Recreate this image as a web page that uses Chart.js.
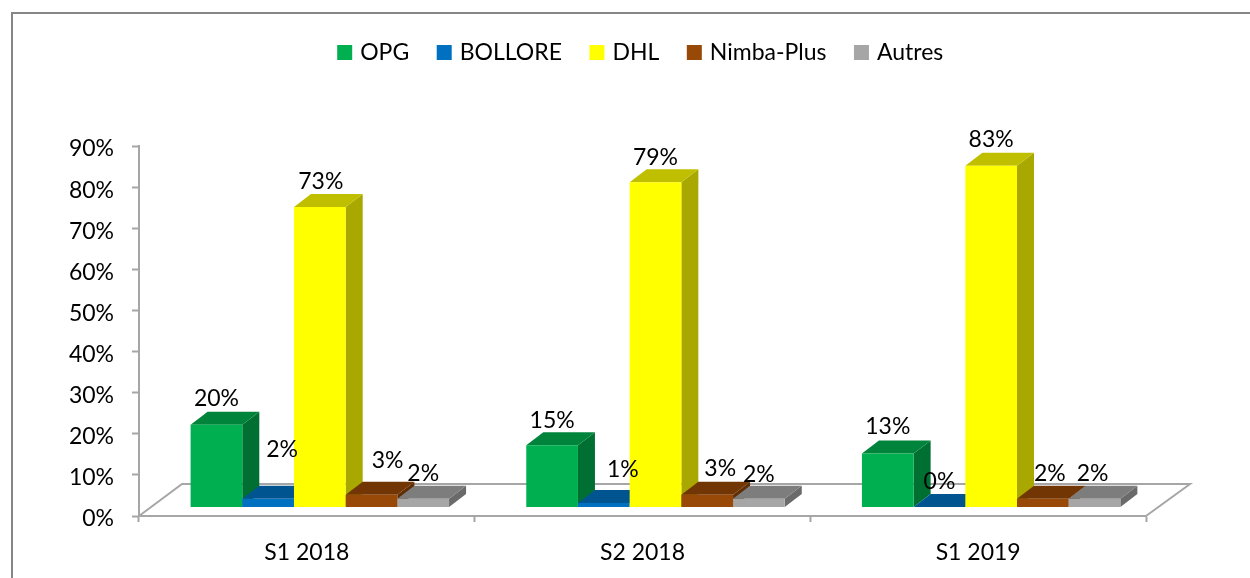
<!DOCTYPE html>
<html>
<head>
<meta charset="utf-8">
<script src="https://cdn.jsdelivr.net/npm/chart.js@4/dist/chart.umd.js"></script>
<style>
    body { margin: 0; background: #fff; }
    #marco { position: absolute; left: 11px; top: 12px; right: 0; bottom: 0; border-left: 2px solid #868686; border-top: 2px solid #868686; }
    #grafico1 { position: absolute; left: 0; top: 0; }
</style>
</head>
<body>
<div id="marco"></div>
<canvas id="grafico1" width="1250" height="578"></canvas>
<script>
const periodos = ['S1 2018', 'S2 2018', 'S1 2019'];
const opg = [20, 15, 13];
const bollore = [2, 1, 0];
const dhl = [73, 79, 83];
const nimba = [3, 3, 2];
const autres = [2, 2, 2];
const ticksY = [0, 10, 20, 30, 40, 50, 60, 70, 80, 90];

const nombres = ['OPG', 'BOLLORE', 'DHL', 'Nimba-Plus', 'Autres'];
const valores = [opg, bollore, dhl, nimba, autres];
const coloresFrente = ['#00B050', '#0070C0', '#FFFF00', '#984807', '#A6A6A6'];
const coloresTecho = ['#00843C', '#005490', '#BFBF00', '#723605', '#7D7D7D'];
const coloresLado = ['#006F32', '#004A7F', '#A8A800', '#5F2D04', '#6A6A6A'];

// los textos de la grafica original estan movidos a mano
const desplazaX = [[0, 0, 0], [14, 19, 0], [1, 0, 0], [16, 13, 7], [0, 0, -2]];
const desplazaY = [[-26, -25, -27], [-49, -33, -25], [-25, -25, -26], [-34, -26, -25], [-25, -24, -25]];

const FUENTE = 'Lato';
const GRIS = '#A6A6A6';
const PROF_X = 17, PROF_Y = 13;
const PISO_X = 44, PISO_Y = 32;

const poligono = (ctx, color, puntos) => {
    ctx.fillStyle = color;
    ctx.beginPath();
    puntos.forEach(([x, y], i) => i ? ctx.lineTo(x, y) : ctx.moveTo(x, y));
    ctx.closePath();
    ctx.fill();
};

const efecto3d = {
    id: 'efecto3d',
    beforeInit(chart) {
        // deja el espacio entre la leyenda y el area de la grafica
        const fit = chart.legend.fit;
        chart.legend.fit = function () {
            fit.call(this);
            this.height = 136;
        };
    },
    afterLayout(chart) {
        const { x1 } = chart.scales;
        x1.left += 13;
        x1.right += 13;
        x1.configure();
        chart.legend.left += 69;
        chart.legend.right += 69;
    },
    beforeDatasetsDraw(chart) {
        const { ctx } = chart;
        const { x, y } = chart.scales;
        const base = y.getPixelForValue(0);

        ctx.save();
        ctx.strokeStyle = GRIS;
        ctx.lineWidth = 2;
        ctx.beginPath();
        ctx.moveTo(x.left, base);
        ctx.lineTo(x.left + PISO_X - 1, base - PISO_Y);
        ctx.lineTo(x.right + PISO_X, base - PISO_Y);
        ctx.lineTo(x.right, base);
        ctx.stroke();

        periodos.forEach((p, i) => {
            nombres.forEach((n, d) => {
                const barra = chart.getDatasetMeta(d).data[i];
                const izq = barra.x - barra.width / 2;
                const der = barra.x + barra.width / 2;
                poligono(ctx, coloresLado[d], [[der, barra.y], [der + PROF_X, barra.y - PROF_Y], [der + PROF_X, barra.base - PROF_Y], [der, barra.base]]);
                poligono(ctx, coloresTecho[d], [[izq, barra.y], [izq + PROF_X, barra.y - PROF_Y], [der + PROF_X, barra.y - PROF_Y], [der, barra.y]]);
                barra.draw(ctx);
            });
        });
        ctx.restore();
        return false;
    },
    afterDraw(chart) {
        const { ctx } = chart;
        ctx.save();
        ctx.font = '23px ' + FUENTE;
        ctx.fillStyle = '#000';
        ctx.textAlign = 'center';
        ctx.textBaseline = 'middle';
        valores.forEach((serie, d) => {
            const meta = chart.getDatasetMeta(d);
            serie.forEach((v, i) => {
                ctx.fillText(v + '%', meta.data[i].x + desplazaX[d][i], meta.data[i].y + desplazaY[d][i]);
            });
        });
        ctx.restore();
    }
};

new Chart(document.getElementById('grafico1').getContext('2d'), {
    type: 'bar',
    data: {
        labels: periodos,
        datasets: nombres.map((nombre, d) => ({
            label: nombre,
            data: valores[d],
            backgroundColor: coloresFrente[d],
            xAxisID: 'x1',
            yAxisID: 'y1',
            categoryPercentage: 0.77,
            barPercentage: 1
        }))
    },
    plugins: [efecto3d],
    options: {
        responsive: false,
        animation: false,
        layout: { padding: { left: 0, right: 104, top: 10, bottom: 0 } },
        plugins: {
            tooltip: { enabled: false },
            legend: {
                position: 'top',
                labels: {
                    font: { family: FUENTE, size: 23 },
                    color: '#000',
                    usePointStyle: true,
                    pointStyle: 'rect',
                    boxWidth: 8,
                    boxHeight: 15,
                    padding: 31
                }
            }
        },
        scales: {
            x: {
                type: 'category',
                offset: true,
                afterFit: (escala) => { escala.height = 62; },
                border: { color: GRIS, width: 2 },
                grid: { offset: true, drawOnChartArea: false, tickLength: 6, tickColor: GRIS, tickWidth: 2 },
                ticks: { color: '#000', font: { family: FUENTE, size: 23 }, padding: 17, maxRotation: 0 }
            },
            x1: { type: 'category', offset: true, display: false },
            y: {
                type: 'linear',
                min: ticksY[0],
                max: ticksY[ticksY.length - 1],
                afterFit: (escala) => { escala.width = 139; },
                border: { color: GRIS, width: 2 },
                grid: { drawOnChartArea: false, tickLength: 7, tickColor: GRIS, tickWidth: 2 },
                ticks: { stepSize: 10, color: '#000', font: { family: FUENTE, size: 23 }, padding: 18, labelOffset: 3, callback: (v) => v + '%' }
            },
            // las barras se apoyan 9 px arriba del borde delantero del piso
            y1: { type: 'linear', display: false, min: -2.19, max: 87.81 }
        }
    }
});
</script>
</body>
</html>
